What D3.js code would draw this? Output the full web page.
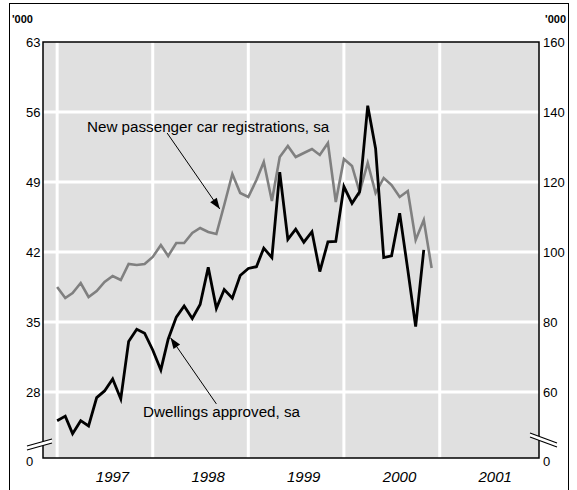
<!DOCTYPE html>
<html><head><meta charset="utf-8">
<script src="https://cdn.jsdelivr.net/npm/d3@7"></script>
<style>body{margin:0;background:#fff}svg{display:block;font-family:"Liberation Sans",Arial,Helvetica,sans-serif}</style>
</head><body><svg id="c" width="577" height="490"></svg>
<script>
// ---- data (monthly, seasonally adjusted) ----
const carStart = [1997, 0];   // Jan 1997
const carValues = [38.5,37.4,37.9,38.9,37.5,38.1,39.0,39.6,39.2,40.8,40.7,40.8,
  41.5,42.7,41.6,42.9,42.9,43.9,44.4,44.0,43.8,46.7,49.8,47.9,
  47.5,49.2,51.0,47.1,51.5,52.6,51.5,51.9,52.3,51.7,52.9,47.0,
  51.3,50.6,48.0,50.9,47.9,49.4,48.7,47.5,48.1,43.2,45.2,40.4];
const dwellStart = [1997, 0];
const dwellValues = [51.8,53.1,48.1,51.8,50.3,58.4,60.3,63.7,58.0,74.4,77.9,76.8,
  72.0,66.3,75.1,81.4,84.6,81.0,85.0,95.6,83.9,89.3,86.8,93.3,
  95.3,95.8,101.1,98.4,122.8,103.6,106.5,102.8,105.8,94.4,102.9,103.0,
  118.7,113.9,117.2,141.8,129.6,98.4,98.9,111.1,94.9,78.7,100.6];
const leftTicks = [28,35,42,49,56,63];
const rightTicks = [60,80,100,120,140,160];
const yearLabels = ["1997","1998","1999","2000","2001"];
const unitLabel = "'000";
const carLabel = "New passenger car registrations, sa";
const dwellLabel = "Dwellings approved, sa";

// ---- layout ----
const L = 43, R = 539, T = 42, B = 458;
const svg = d3.select("#c");

const x = d3.scaleTime().domain([new Date(1996,10,8), new Date(2002,0,15)]).range([L,R]);
const yL = d3.scaleLinear().domain([21.4,63]).range([B,T]);
const yR = d3.scaleLinear().domain([41.14,160]).range([B,T]);

const carData = carValues.map((v,i)=>({d:new Date(carStart[0], carStart[1]+i, 1), v}));
const dwellData = dwellValues.map((v,i)=>({d:new Date(dwellStart[0], dwellStart[1]+i, 1), v}));

// outer frame
svg.append("rect").attr("x",9.5).attr("y",3.5).attr("width",559).attr("height",520)
  .attr("fill","none").attr("stroke","#000").attr("stroke-width",1);

// plot background
svg.append("rect").attr("x",L).attr("y",T).attr("width",R-L).attr("height",B-T).attr("fill","#e0e0e0");

// gridlines
const years = yearLabels.map(y=>new Date(+y,0,1));
svg.append("g").selectAll("line").data(years).join("line")
  .attr("x1",d=>x(d)).attr("x2",d=>x(d)).attr("y1",T).attr("y2",B)
  .attr("stroke","#fff").attr("stroke-width",3);
svg.append("g").selectAll("line").data(leftTicks.filter(t=>t<63)).join("line")
  .attr("x1",L).attr("x2",R).attr("y1",d=>yL(d)).attr("y2",d=>yL(d))
  .attr("stroke","#fff").attr("stroke-width",3);

// plot border
svg.append("rect").attr("x",L).attr("y",T).attr("width",R-L).attr("height",B-T)
  .attr("fill","none").attr("stroke","#000").attr("stroke-width",1.5);

// axes (labels only)
const axL = d3.axisLeft(yL).tickValues(leftTicks).tickSize(0).tickPadding(0);
const gL = svg.append("g").attr("transform",`translate(26,0)`).call(axL);
gL.select(".domain").remove();
gL.selectAll("text").attr("text-anchor","start").attr("x",0).attr("font-size",13).attr("font-family",null).attr("fill","#000");
const axR = d3.axisRight(yR).tickValues(rightTicks).tickSize(0).tickPadding(0);
const gR = svg.append("g").attr("transform",`translate(543,0)`).call(axR);
gR.select(".domain").remove();
gR.selectAll("text").attr("font-size",13).attr("font-family",null).attr("fill","#000");

// zero labels
svg.append("text").attr("x",26).attr("y",B+8).text("0").attr("font-size",13);
svg.append("text").attr("x",543).attr("y",B+8).text("0").attr("font-size",13);

// unit labels
svg.append("text").attr("x",12).attr("y",23).text(unitLabel).attr("font-size",11).attr("font-weight","bold");
svg.append("text").attr("x",566).attr("y",23).attr("text-anchor","end").text(unitLabel).attr("font-size",11).attr("font-weight","bold");

// year labels
svg.append("g").selectAll("text").data(yearLabels).join("text")
  .attr("x",d=>x(new Date(+d,6,1))+8).attr("y",482)
  .attr("text-anchor","middle").attr("font-size",15).attr("font-style","italic").text(d=>d);

// axis breaks
function brk(x1,y1,x2,y2,gap){
  svg.append("polygon").attr("points",`${x1},${y1} ${x2},${y2} ${x2},${y2+gap} ${x1},${y1+gap}`).attr("fill","#fff");
  svg.append("line").attr("x1",x1).attr("y1",y1).attr("x2",x2).attr("y2",y2).attr("stroke","#000").attr("stroke-width",1.2);
  svg.append("line").attr("x1",x1).attr("y1",y1+gap).attr("x2",x2).attr("y2",y2+gap).attr("stroke","#000").attr("stroke-width",1.2);
}
brk(27,446,52,439,4);
brk(530,433,557,443,4);

// lines
const lineL = d3.line().x(d=>x(d.d)).y(d=>yL(d.v));
const lineR = d3.line().x(d=>x(d.d)).y(d=>yR(d.v));
svg.append("path").datum(carData).attr("d",lineL).attr("fill","none").attr("stroke","#808080").attr("stroke-width",2.6).attr("stroke-linejoin","miter");
svg.append("path").datum(dwellData).attr("d",lineR).attr("fill","none").attr("stroke","#000").attr("stroke-width",2.8).attr("stroke-linejoin","miter");

// annotations
function arrow(x1,y1,x2,y2){
  svg.append("line").attr("x1",x1).attr("y1",y1).attr("x2",x2).attr("y2",y2).attr("stroke","#000").attr("stroke-width",1);
  const a = Math.atan2(y2-y1,x2-x1), len=11, w=4;
  const bx = x2-len*Math.cos(a), by = y2-len*Math.sin(a);
  const px = -Math.sin(a)*w, py = Math.cos(a)*w;
  svg.append("polygon").attr("points",`${x2},${y2} ${bx+px},${by+py} ${bx-px},${by-py}`).attr("fill","#000");
}
svg.append("text").attr("x",87).attr("y",132).attr("font-size",15.2).text(carLabel);
arrow(x(new Date(1998,1,25)), yL(53.9), x(new Date(1998,8,14)), yL(46.3));
svg.append("text").attr("x",143).attr("y",417).attr("font-size",15.2).text(dwellLabel);
arrow(x(new Date(1998,8,1)), yR(56.6), x(new Date(1998,2,10)), yR(75.5));
</script></body></html>
